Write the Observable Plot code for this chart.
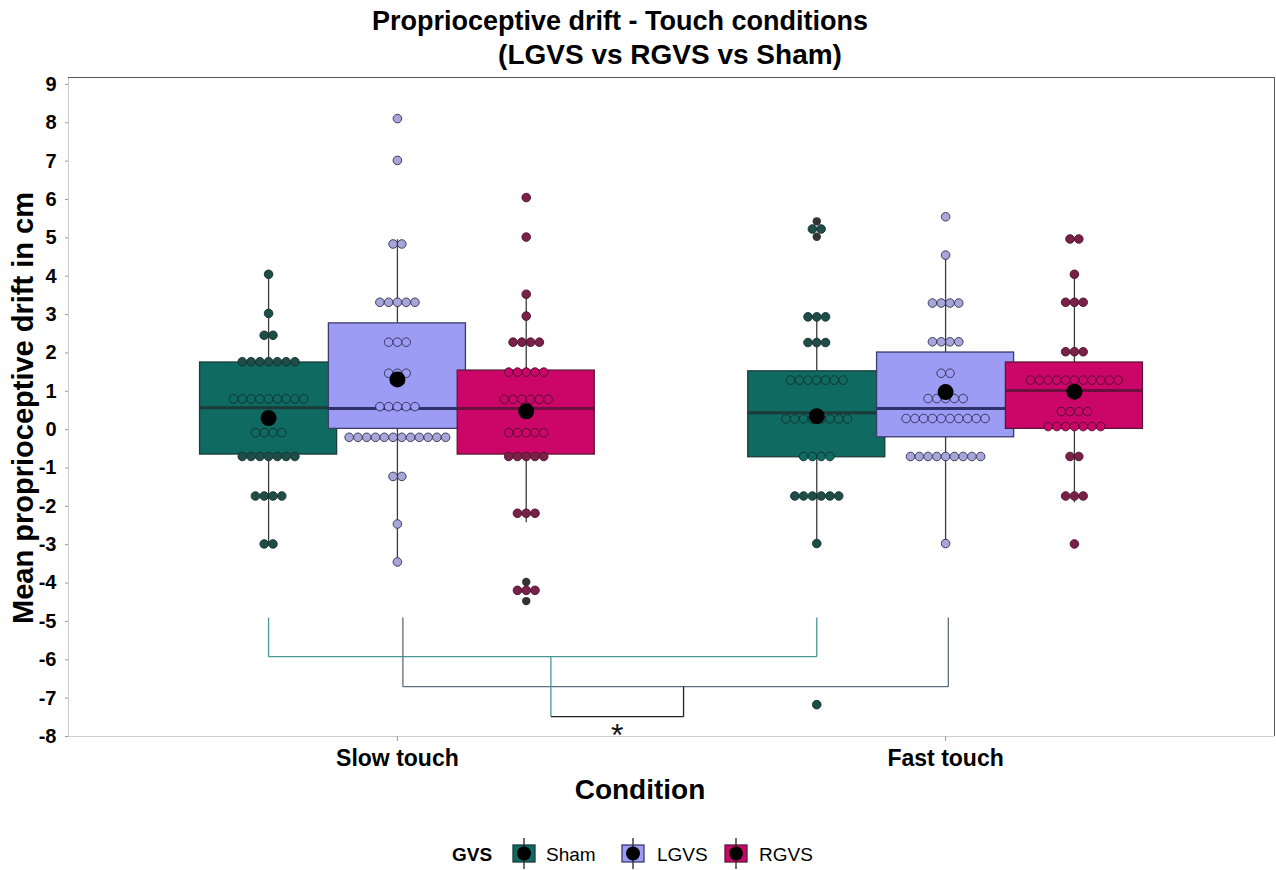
<!DOCTYPE html>
<html>
<head>
<meta charset="utf-8">
<script src="https://cdn.jsdelivr.net/npm/d3@7"></script>
<script src="https://cdn.jsdelivr.net/npm/@observablehq/plot@0.6"></script>
<style>
  body { margin: 0; background: #fff; font-family: "Liberation Sans", Arial, sans-serif; }
  #wrap { position: relative; width: 1276px; height: 870px; overflow: hidden; background: #fff; }
  #wrap svg.chart { position: absolute; left: 0; top: 0; }
  .t { position: absolute; white-space: nowrap; color: #000; }
</style>
</head>
<body>
<div id="wrap"></div>
<script>
// ---- data -------------------------------------------------------------
const conditions = ["Slow touch", "Fast touch"];
const groups = ["Sham", "LGVS", "RGVS"];
const yTicks = d3.range(-8, 10);

// Binned dot-plot rows for each cell: [drift in cm, participants in the bin]
const slowSham = [[4.05,1],[3.03,1],[2.46,2],[1.77,7],[0.8,9],[-0.08,4],[-0.7,7],[-1.73,4],[-2.98,2]];
const slowLGVS = [[8.11,1],[7.02,1],[4.84,2],[3.32,5],[2.28,3],[1.47,3],[0.6,5],[-0.2,12],[-1.22,2],[-2.46,1],[-3.45,1]];
const slowRGVS = [[6.05,1],[5.02,1],[3.53,1],[2.96,1],[2.28,4],[1.5,5],[0.79,6],[-0.08,5],[-0.7,5],[-2.18,3],[-4.19,3]];
const fastSham = [[5.23,2],[2.94,3],[2.27,3],[1.29,7],[0.28,8],[-0.7,4],[-1.73,6],[-2.97,1],[-7.17,1]];
const fastLGVS = [[5.55,1],[4.55,1],[3.3,4],[2.29,4],[1.47,2],[0.81,5],[0.29,10],[-0.7,9],[-2.97,1]];
const fastRGVS = [[4.97,2],[4.05,1],[3.32,3],[2.03,3],[1.29,11],[0.47,4],[0.08,7],[-0.7,2],[-1.73,3],[-2.98,1]];

// Box summaries, ordered Slow (Sham, LGVS, RGVS) then Fast (Sham, LGVS, RGVS)
const whiskerLow  = [-2.98, -3.45, -2.43, -2.97, -2.97, -1.91];
const quartile1   = [-0.65,  0.02, -0.65, -0.72, -0.20,  0.02];
const medians     = [ 0.57,  0.55,  0.55,  0.44,  0.55,  1.02];
const quartile3   = [ 1.75,  2.77,  1.54,  1.52,  2.01,  1.75];
const whiskerHigh = [ 4.05,  4.95,  3.53,  2.94,  4.55,  4.05];
const means       = [ 0.30,  1.31,  0.48,  0.35,  0.98,  0.99];

// Boxplot outliers: cell index and value
const outlierCell  = [2, 2, 3, 3];
const outlierValue = [-3.97, -4.47, 5.43, 5.03];

// Significance brackets (Sham slow vs fast, LGVS slow vs fast) and their interaction
const bracketStart = [0.765, 1.01];
const bracketEnd   = [1.765, 2.005];
const bracketTip   = [-4.9, -4.9];
const bracketBar   = [-5.92, -6.7];
const bracketJoin  = [1.28, 1.522];
const interactionBar = -7.48;
const interactionLabel = "*";

// ---- styles -----------------------------------------------------------
const boxFill      = ["#0f6a62", "#9c9cf5", "#cc0669"];
const boxStroke    = ["#1b3d3a", "#3b3b6e", "#5c1838"];
const medianStroke = ["#1c3b38", "#30306a", "#6b0f3e"];
const dotFill      = ["#1f4d49", "#a8a5d8", "#7a2149"];
const dotStroke    = ["#12302d", "#2e2e55", "#4a0f2a"];
const bracketColor = ["#4a9696", "#5f6e80"];
const dodge = 0.235, boxW = 0.25, dotStep = 0.016;

// ---- derived tables ---------------------------------------------------
const dotRows = [slowSham, slowLGVS, slowRGVS, fastSham, fastLGVS, fastRGVS];
const cells = conditions.flatMap((c, ci) => groups.map((g, gi) => {
  const k = ci * 3 + gi;
  return {k, ci, gi, condition: c, group: g, x: ci + 1 + (gi - 1) * dodge,
    low: whiskerLow[k], q1: quartile1[k], median: medians[k], q3: quartile3[k],
    high: whiskerHigh[k], mean: means[k]};
}));
const dots = groups.flatMap((g, gi) => cells.filter(c => c.gi === gi).flatMap(cell =>
  dotRows[cell.k].flatMap(([v, n]) => d3.range(n).map(i => ({
    gi, x: cell.x + (i - (n - 1) / 2) * dotStep, y: v,
    inside: v >= cell.q1 && v <= cell.q3
  })))));
const outliers = outlierValue.map((v, i) => ({x: cells[outlierCell[i]].x, y: v}));

const segments = [];
bracketStart.forEach((x1, i) => {
  const x2 = bracketEnd[i], c = bracketColor[i];
  segments.push({x1, y1: bracketTip[i], x2: x1, y2: bracketBar[i], c});
  segments.push({x1, y1: bracketBar[i], x2, y2: bracketBar[i], c});
  segments.push({x1: x2, y1: bracketBar[i], x2, y2: bracketTip[i], c});
});
segments.push({x1: bracketJoin[0], y1: bracketBar[0], x2: bracketJoin[0], y2: interactionBar, c: bracketColor[0]});
segments.push({x1: bracketJoin[0], y1: interactionBar, x2: bracketJoin[1], y2: interactionBar, c: "#222"});
segments.push({x1: bracketJoin[1], y1: interactionBar, x2: bracketJoin[1], y2: bracketBar[1], c: "#222"});

// ---- chart ------------------------------------------------------------
const boxMarks = groups.flatMap((g, gi) => {
  const cs = cells.filter(d => d.gi === gi);
  return [
    Plot.ruleX(cs, {x: "x", y1: "low", y2: "q1", stroke: "#3c3c3c", strokeWidth: 1.3}),
    Plot.ruleX(cs, {x: "x", y1: "q3", y2: "high", stroke: "#3c3c3c", strokeWidth: 1.3}),
    Plot.rect(cs, {x1: d => d.x - boxW / 2, x2: d => d.x + boxW / 2, y1: "q1", y2: "q3",
      fill: boxFill[gi], stroke: boxStroke[gi], strokeWidth: 1.3}),
    Plot.ruleY(cs, {y: "median", x1: d => d.x - boxW / 2, x2: d => d.x + boxW / 2,
      stroke: medianStroke[gi], strokeWidth: 3})
  ];
});

const chart = Plot.plot({
  width: 1276, height: 870,
  marginTop: 77, marginBottom: 134, marginLeft: 68, marginRight: 2,
  x: {domain: [0.4, 2.6]},
  y: {domain: [-8, 9.18]},
  color: {type: "identity"},
  style: {fontFamily: "'Liberation Sans', Arial, sans-serif", background: "transparent"},
  marks: [
    Plot.ruleX([0.4], {stroke: "#cfcfcf"}),
    Plot.ruleY([-8], {stroke: "#cfcfcf"}),
    Plot.ruleY([9.18], {stroke: "#555"}),
    Plot.ruleX([2.6], {stroke: "#555"}),
    Plot.axisY({ticks: yTicks, tickFormat: d => String(d), tickSize: 3, tickPadding: 9,
      fontSize: 20, fontWeight: "bold", stroke: "#999", fill: "#000", label: null}),
    Plot.axisX({ticks: [1, 2], tickFormat: i => conditions[i - 1], tickSize: 5, tickPadding: 8,
      fontSize: 23, fontWeight: "bold", stroke: "#999", fill: "#000", label: null}),
    ...boxMarks,
    Plot.dot(outliers, {x: "x", y: "y", r: 4.2, fill: "#333"}),
    Plot.dot(dots, {x: "x", y: "y", r: 4.3,
      fill: d => d.inside ? boxFill[d.gi] : dotFill[d.gi],
      stroke: d => dotStroke[d.gi], strokeWidth: 0.9}),
    Plot.dot(cells, {x: "x", y: "mean", r: 8, fill: "#000"}),
    Plot.link(segments, {x1: "x1", y1: "y1", x2: "x2", y2: "y2", stroke: "c", strokeWidth: 1.3}),
    Plot.text([interactionLabel], {x: [(bracketJoin[0] + bracketJoin[1]) / 2], y: [interactionBar],
      text: d => d, lineAnchor: "top", dy: 7, fontSize: 32, fill: "#111"})
  ]
});
chart.classList.add("chart");
const wrap = document.getElementById("wrap");
wrap.appendChild(chart);

// ---- titles, axis labels and legend ---------------------------------
function label(text, x, baseline, size, weight, anchor = "middle") {
  const el = document.createElement("div");
  el.className = "t";
  el.textContent = text;
  el.style.fontSize = size + "px";
  el.style.lineHeight = size + "px";
  el.style.fontWeight = weight;
  el.style.left = x + "px";
  el.style.top = (baseline - 0.8465 * size) + "px";
  if (anchor === "middle") el.style.transform = "translateX(-50%)";
  wrap.appendChild(el);
  return el;
}
label("Proprioceptive drift - Touch conditions", 620, 31, 27, "bold");
label("(LGVS vs RGVS vs Sham)", 670, 65, 28, "bold");
label("Condition", 640, 800, 28, "bold");
const yl = label("Mean proprioceptive drift in cm", 23, 0, 29, "bold");
yl.style.top = "408px";
yl.style.transform = "translate(-50%, -50%) rotate(-90deg)";

label("GVS", 452, 861, 19, "bold", "start");
const legendKeyX = [513, 622, 725];
const legendTextX = [546, 657, 759];
groups.forEach((g, gi) => {
  const svg = d3.create("svg").attr("width", 24).attr("height", 38)
    .style("position", "absolute").style("left", (legendKeyX[gi] - 1) + "px").style("top", "835px");
  svg.append("line").attr("x1", 12).attr("x2", 12).attr("y1", 3).attr("y2", 34).attr("stroke", "#222").attr("stroke-width", 1.3);
  svg.append("rect").attr("x", 1).attr("y", 10).attr("width", 22).attr("height", 17)
    .attr("fill", boxFill[gi]).attr("stroke", boxStroke[gi]).attr("stroke-width", 1.3);
  svg.append("line").attr("x1", 12).attr("x2", 12).attr("y1", 10).attr("y2", 27).attr("stroke", "#222").attr("stroke-width", 1.3);
  svg.append("circle").attr("cx", 12).attr("cy", 18.5).attr("r", 7).attr("fill", "#000");
  wrap.appendChild(svg.node());
  label(g, legendTextX[gi], 861, 19, "normal", "start");
});
</script>
</body>
</html>
